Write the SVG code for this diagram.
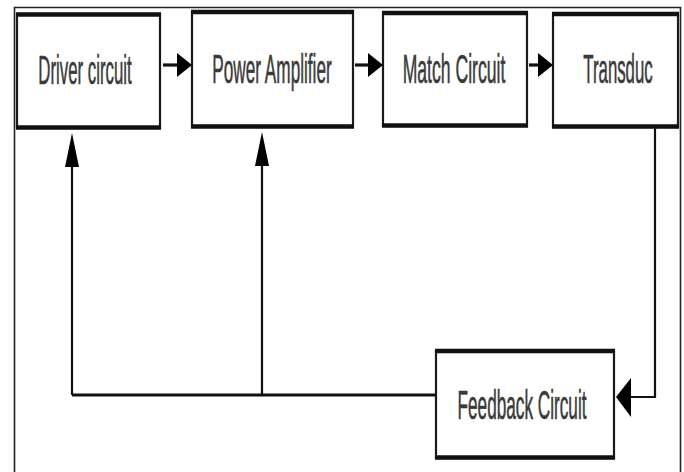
<svg xmlns="http://www.w3.org/2000/svg" width="684" height="472" viewBox="0 0 684 472">
<style>
.side{fill:#fff;stroke:#1a1a1a;stroke-width:2.2}
.tb{stroke:#111;stroke-width:4.5}
.lbl{font-family:"Liberation Sans",Arial,sans-serif;font-size:40px;fill:#3a3a3a;stroke:#3a3a3a;stroke-width:0.6;text-anchor:middle}
.ln{fill:none;stroke:#111;stroke-width:2.2}
.lh{fill:none;stroke:#111;stroke-width:3.2}
.ah{fill:#000}
</style>
<rect x="0" y="0" width="684" height="472" fill="#fff"/>
<path d="M14.5 480 V7.5 H680.5 V480" fill="none" stroke="#222" stroke-width="1.6"/>
<g id="driver">
<rect class="side" x="17" y="14" width="143" height="114"/>
<line class="tb" x1="16" y1="14.5" x2="161" y2="14.5"/>
<line class="tb" x1="16" y1="127.5" x2="161" y2="127.5"/>
<text class="lbl" transform="translate(85 84) scale(0.42 1)">Driver circuit</text>
</g>
<g id="amplifier">
<rect class="side" x="192" y="12" width="161" height="114"/>
<line class="tb" x1="191" y1="12" x2="354" y2="12"/>
<line class="tb" x1="191" y1="126.5" x2="354" y2="126.5"/>
<text class="lbl" transform="translate(272 83) scale(0.43 1)">Power Amplifier</text>
</g>
<g id="match">
<rect class="side" x="383" y="13" width="144" height="113"/>
<line class="tb" x1="382" y1="13" x2="528" y2="13"/>
<line class="tb" x1="382" y1="125.5" x2="528" y2="125.5"/>
<text class="lbl" transform="translate(454 83) scale(0.44 1)">Match Circuit</text>
</g>
<g id="transducer">
<rect class="side" x="553" y="14" width="125" height="113"/>
<line class="tb" x1="552" y1="14" x2="679" y2="14"/>
<line class="tb" x1="552" y1="126.5" x2="679" y2="126.5"/>
<text class="lbl" transform="translate(618 83) scale(0.42 1)">Transduc</text>
</g>
<g id="feedback">
<rect class="side" x="436" y="351" width="178" height="107"/>
<line class="tb" x1="435" y1="351" x2="615" y2="351"/>
<line class="tb" x1="435" y1="457.5" x2="615" y2="457.5"/>
<text class="lbl" transform="translate(522 419) scale(0.43 1)">Feedback Circuit</text>
</g>
<g id="connectors">
<line class="lh" x1="163" y1="65" x2="178" y2="65"/>
<polygon class="ah" points="177,53 192,65 177,77"/>
<line class="lh" x1="355" y1="65" x2="369" y2="65"/>
<polygon class="ah" points="368,53 383,65 368,77"/>
<line class="lh" x1="529" y1="65" x2="539" y2="65"/>
<polygon class="ah" points="538,53 553,65 538,77"/>
<polyline class="ln" points="655,127 655,397 630,397"/>
<polygon class="ah" points="631,378 616,397 631,417"/>
<line class="lh" x1="72" y1="395" x2="436" y2="395"/>
<line class="ln" x1="72" y1="395" x2="72" y2="165"/>
<polygon class="ah" points="65,167 72,133 79,167"/>
<line class="ln" x1="262" y1="395" x2="262" y2="165"/>
<polygon class="ah" points="255,166 262,132 269,166"/>
</g>
</svg>
